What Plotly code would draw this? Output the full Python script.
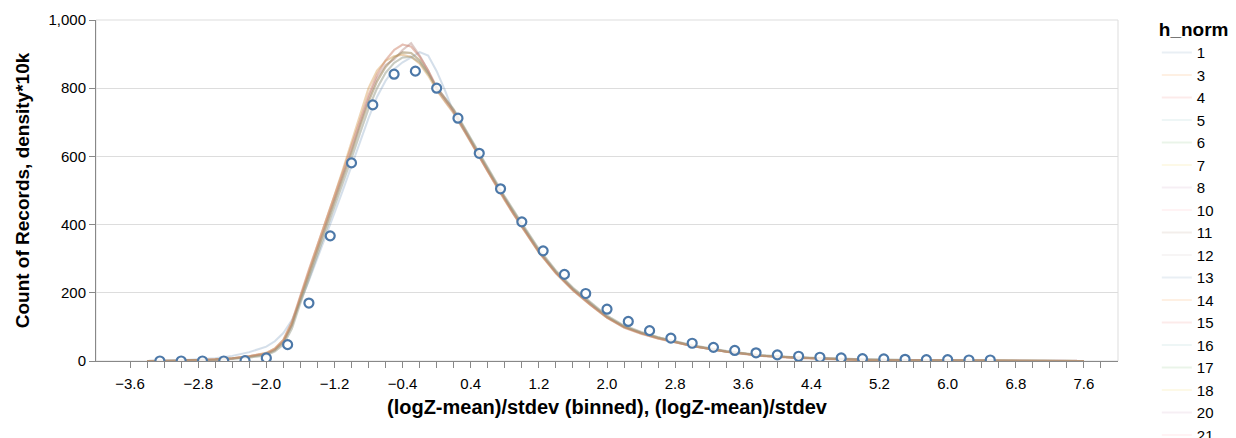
import plotly.graph_objects as go

# ---------------- data ----------------
grid_x = [-3.4, -3.0, -2.6, -2.4, -2.2,
          -2.0, -1.9, -1.8, -1.7, -1.6, -1.5, -1.4, -1.3, -1.2, -1.1,
          -1.0, -0.9, -0.8, -0.7, -0.6, -0.5, -0.4, -0.3, -0.2, -0.1,
          0.0, 0.1, 0.2, 0.3, 0.4, 0.5, 0.6, 0.7, 0.8, 0.9, 1.0,
          1.2, 1.4, 1.6, 1.8, 2.0, 2.2, 2.4, 2.6, 2.8, 3.0,
          3.4, 3.8, 4.2, 4.6, 5.0, 5.6, 6.2, 6.8, 7.6]

curve_base = [0, 1, 4, 7, 12,
              20, 32, 55, 105, 180, 252, 322, 392, 462, 536,
              612, 688, 760, 820, 862, 890, 905, 903, 882, 845,
              800, 768, 735, 692, 648, 605, 562, 520, 478, 438, 400,
              324, 262, 212, 170, 130, 101, 83, 69, 56, 45,
              28, 16, 10, 6, 4, 2, 1, 1, 0]

curve_a = [0, 1, 5, 8, 14,
           23, 36, 62, 115, 195, 268, 340, 410, 482, 556,
           632, 708, 780, 840, 882, 912, 928, 922, 893, 852,
           804, 769, 733, 689, 644, 600, 556, 514, 472, 432, 394,
           320, 258, 208, 166, 127, 98, 80, 66, 54, 44,
           27, 15, 9, 5, 3, 2, 1, 0, 0]

curve_b = [0, 0, 3, 6, 10,
           17, 28, 48, 95, 170, 240, 308, 378, 448, 520,
           594, 668, 740, 800, 845, 874, 890, 892, 876, 843,
           802, 771, 738, 696, 652, 609, 566, 524, 482, 442, 404,
           328, 265, 215, 173, 133, 104, 85, 70, 57, 46,
           29, 17, 11, 7, 5, 3, 1, 1, 0]

curve_c = [0, 2, 8, 15, 26,
           42, 58, 82, 120, 175, 236, 300, 366, 434, 502,
           572, 642, 712, 775, 822, 856, 876, 890, 906, 896,
           850, 792, 728, 685, 646, 602, 560, 517, 474, 434, 397,
           321, 259, 209, 167, 129, 100, 82, 67, 55, 44,
           27, 16, 10, 6, 4, 2, 1, 0, 0]

curve_d = [0, 1, 4, 7, 13,
           21, 33, 57, 106, 186, 258, 330, 400, 468, 542,
           618, 696, 770, 830, 868, 884, 912, 932, 896, 852,
           797, 762, 729, 686, 641, 600, 558, 516, 474, 434, 396,
           320, 259, 209, 167, 128, 100, 82, 67, 55, 44,
           28, 16, 10, 6, 4, 2, 1, 1, 0]

curve_e = [0, 1, 5, 8, 14,
           24, 37, 62, 112, 190, 264, 338, 410, 486, 562,
           640, 722, 800, 852, 880, 894, 898, 892, 872, 837,
           794, 760, 726, 684, 641, 598, 556, 513, 471, 431, 393,
           318, 257, 207, 165, 127, 99, 81, 66, 54, 44,
           27, 16, 10, 6, 3, 2, 1, 0, 0]

curves = {"base": curve_base, "a": curve_a, "b": curve_b,
          "c": curve_c, "d": curve_d, "e": curve_e}

h_norm = [1, 3, 4, 5, 6, 7, 8, 10, 11, 12, 13, 14, 15, 16, 17, 18, 20, 21,
          22, 23, 24, 25, 26, 27, 28, 29, 30, 31]
h_curve = ["c", "a", "base", "b", "d", "e", "base", "a", "b", "d",
           "c", "base", "e", "a", "b", "base", "d", "a",
           "e", "b", "base", "a", "d", "b", "base", "e", "a", "b"]
legend_count = 18  # entries that reach the visible page

bin_x = [-3.25, -3.0, -2.75, -2.5, -2.25, -2.0, -1.75, -1.5, -1.25, -1.0,
         -0.75, -0.5, -0.25, 0.0, 0.25, 0.5, 0.75, 1.0, 1.25, 1.5,
         1.75, 2.0, 2.25, 2.5, 2.75, 3.0, 3.25, 3.5, 3.75, 4.0,
         4.25, 4.5, 4.75, 5.0, 5.25, 5.5, 5.75, 6.0, 6.25, 6.5]
bin_counts = [0, 0, 0, 0, 1, 9, 48, 170, 367, 581,
              751, 841, 850, 800, 712, 609, 505, 408, 323, 254,
              198, 152, 116, 89, 67, 52, 40, 31, 24, 18,
              14, 11, 9, 7, 6, 5, 4, 4, 3, 3]

x_tick_vals = [round(-3.6 + 0.2 * i, 1) for i in range(58)]
x_tick_labels = ["-3.6", "-2.8", "-2.0", "-1.2", "-0.4", "0.4", "1.2", "2.0",
                 "2.8", "3.6", "4.4", "5.2", "6.0", "6.8", "7.6"]
y_tick_vals = [0, 200, 400, 600, 800, 1000]
y_tick_labels = ["0", "200", "400", "600", "800", "1,000"]

palette = ["#4c78a8", "#f58518", "#e45756", "#72b7b2", "#54a24b",
           "#eeca3b", "#b279a2", "#ff9da6", "#9d755d", "#bab0ac"]

# ---------------- figure ----------------
FONT = "Liberation Sans, Arial, sans-serif"
W, H = 1236, 1000
# plot-area edges inside the figure (page body adds 8px)
L, R, T, B = 88, 1110, 12, 353

fig = go.Figure()
for i, (h, cname) in enumerate(zip(h_norm, h_curve)):
    fig.add_trace(go.Scatter(
        x=grid_x, y=curves[cname], mode="lines", name=str(h),
        showlegend=i < legend_count,
        line=dict(color=palette[i % 10], width=2),
        opacity=0.12, hoverinfo="skip"))

fig.add_trace(go.Scatter(
    x=bin_x, y=bin_counts, mode="markers", showlegend=False,
    marker=dict(symbol="circle", size=9, color="rgba(255,255,255,0.85)",
                line=dict(color="#4c78a8", width=2.2))))

label_set = set(x_tick_labels)
ticktext = []
for v in x_tick_vals:
    s = ("%.1f" % v).replace("-0.0", "0.0")
    ticktext.append(s.replace("-", "\u2212") if s in label_set else "")

fig.update_layout(
    width=W, height=H,
    margin=dict(l=L, r=W - R, t=T, b=H - B, pad=0, autoexpand=False),
    paper_bgcolor="white", plot_bgcolor="white",
    font=dict(family=FONT, color="#000", size=15),
    showlegend=True,
    legend=dict(
        title=dict(text="<b>h_norm</b>", font=dict(size=19, family=FONT)),
        font=dict(size=15, family=FONT),
        x=1.038, xanchor="left", y=1.025, yanchor="top",
        tracegroupgap=0, itemwidth=30, bgcolor="rgba(0,0,0,0)"),
    xaxis=dict(
        range=[-4.0, 8.0], tickvals=x_tick_vals, ticktext=ticktext,
        ticks="outside", ticklen=6, tickcolor="#888", tickwidth=1,
        ticklabelstandoff=3,
        showline=True, linecolor="#888", linewidth=1,
        showgrid=False, zeroline=False,
        tickfont=dict(size=15, family=FONT, color="#000"),
        title=dict(text="<b>(logZ-mean)/stdev (binned), (logZ-mean)/stdev</b>",
                   font=dict(size=20, family=FONT, color="#000"), standoff=8)),
    yaxis=dict(
        range=[0, 1000], tickvals=y_tick_vals, ticktext=y_tick_labels,
        ticks="outside", ticklen=6, tickcolor="#888", tickwidth=1,
        showline=True, linecolor="#888", linewidth=1,
        showgrid=True, gridcolor="#ddd", gridwidth=1, zeroline=False,
        tickfont=dict(size=15, family=FONT, color="#000"),
        title=dict(text="<b>Count of Records, density*10k</b>",
                   font=dict(size=19, family=FONT, color="#000"), standoff=13)),
    shapes=[dict(type="rect", xref="paper", yref="paper", x0=0, x1=1, y0=0, y1=1,
                 line=dict(color="#ddd", width=1), layer="below")],
)

fig.write_html("out.html")
